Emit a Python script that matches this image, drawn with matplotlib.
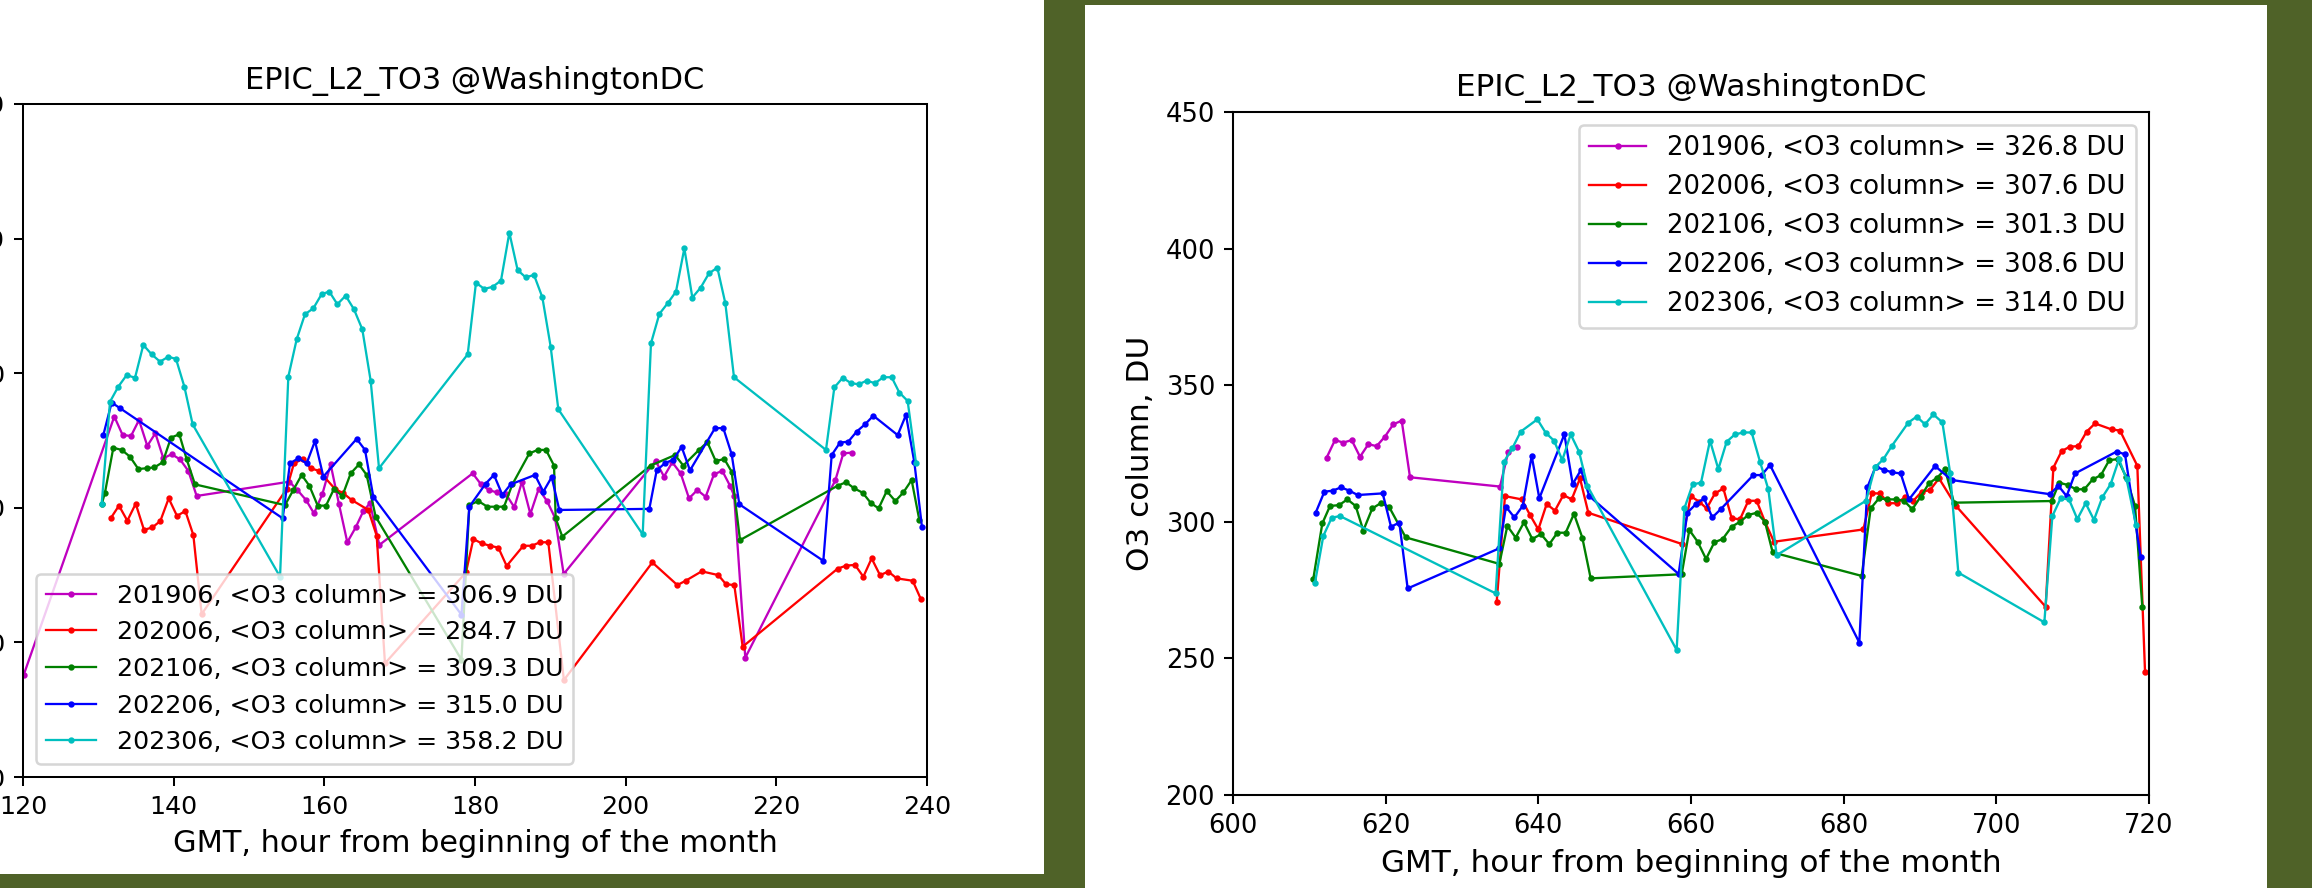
import matplotlib
matplotlib.use('Agg')
import matplotlib.pyplot as plt
from matplotlib.patches import Rectangle

# ---------------- data: left panel (hours 120-240) ----------------
months = ['201906', '202006', '202106', '202206', '202306']
colors = ['m', 'r', 'g', 'b', 'c']

means_left = [306.9, 284.7, 309.3, 315.0, 358.2]
means_right = [326.8, 307.6, 301.3, 308.6, 314.0]

L201906_h = [120.1, 132.12, 133.23, 134.34, 135.40, 136.50, 137.57, 138.63, 139.73, 140.84, 141.95, 143.05,
             155.35, 156.42, 157.57, 158.63, 159.73, 160.84, 161.95, 163.05, 164.16, 165.18, 166.06, 167.30,
             179.69, 180.80, 181.90, 182.96, 184.12, 185.22, 186.24, 187.35, 188.45, 189.56, 190.62, 191.77,
             203.98, 205.09, 206.19, 207.30, 208.41, 209.51, 210.62, 211.73, 212.83, 213.85, 214.4, 215.88,
             227.83, 228.89, 230.00]
L201906_v = [238.0, 333.9, 327.0, 326.7, 332.6, 323.0, 327.7, 318.4, 319.9, 318.0, 313.7, 304.4,
             309.7, 306.6, 302.9, 297.9, 305.0, 316.1, 301.3, 287.2, 292.7, 298.8, 301.7, 286.2,
             312.8, 308.7, 306.5, 305.7, 305.0, 300.2, 309.7, 297.7, 307.0, 302.5, 296.3, 275.4,
             317.4, 311.6, 316.9, 312.8, 303.5, 306.6, 304.1, 312.5, 313.7, 308.2, 304.5, 244.3,
             310.2, 320.2, 320.5]

L202006_h = [131.64, 132.74, 133.85, 134.96, 136.06, 137.17, 138.23, 139.34, 140.44, 141.55, 142.61, 143.72,
             155.00, 155.97, 157.12, 158.19, 159.29, 161.42, 162.52, 163.63, 165.84, 166.95, 168.05,
             178.8, 179.78, 180.88, 181.99, 183.10, 184.20, 186.42, 187.52, 188.63, 189.73, 191.8,
             203.54, 206.86, 207.96, 210.09, 212.30, 213.32, 214.42, 215.53,
             228.14, 229.25, 230.44, 231.55, 232.65, 233.76, 234.87, 235.97, 238.10, 239.20]
L202006_v = [296.1, 300.8, 295.2, 301.5, 291.8, 292.7, 295.1, 303.5, 297.0, 298.8, 289.9, 260.5,
             307.0, 316.5, 318.1, 314.7, 313.7, 307.0, 305.4, 302.9, 299.2, 289.6, 242.2,
             276.0, 288.4, 286.8, 285.9, 285.2, 278.4, 285.9, 285.9, 287.2, 287.2, 236.0,
             279.7, 271.3, 272.9, 276.4, 275.0, 271.6, 271.3, 248.4,
             277.4, 278.5, 278.8, 274.4, 281.2, 275.0, 276.3, 273.8, 272.9, 266.0]

L202106_h = [130.44, 130.88, 131.99, 133.10, 134.20, 135.31, 136.42, 137.43, 138.54, 139.65, 140.75, 141.73, 142.83,
             154.78, 155.88, 156.99, 158.01, 159.12, 160.22, 161.28, 162.39, 163.50, 164.60, 165.62, 166.81,
             178.2, 179.25, 180.44, 181.64, 182.74, 183.85, 184.96, 187.21, 188.32, 189.42, 190.49, 190.71, 191.59,
             203.32, 206.55, 207.65, 209.73, 210.84, 211.95, 213.10, 214.07, 215.18,
             228.14, 229.25, 230.35, 231.46, 232.57, 233.58, 234.65, 235.80, 236.86, 237.96, 238.98]
L202106_v = [301.3, 305.6, 322.3, 321.5, 319.0, 314.4, 314.7, 315.0, 316.9, 326.1, 327.3, 318.0, 308.7,
             301.0, 306.6, 312.2, 308.2, 300.8, 300.8, 307.0, 304.4, 312.8, 316.1, 312.2, 296.7,
             243.6, 301.0, 302.5, 300.4, 300.4, 300.4, 308.7, 320.2, 321.5, 321.5, 315.7, 296.1, 289.3,
             315.7, 319.6, 315.7, 321.5, 324.4, 317.4, 318.1, 313.4, 288.0,
             308.2, 309.5, 307.2, 305.6, 301.7, 299.8, 306.2, 302.5, 305.7, 310.3, 295.5]

L202206_h = [130.66, 131.77, 132.88, 154.47, 155.44, 156.55, 157.65, 158.76, 159.87, 164.29, 165.40, 166.50,
             178.2, 179.25, 181.42, 182.52, 183.63, 184.73, 187.96, 189.07, 190.18, 191.19,
             203.14, 204.12, 205.22, 206.33, 207.43, 208.54, 211.86, 212.96, 214.07, 215.09,
             226.24, 227.35, 228.45, 229.56, 230.66, 231.77, 232.88, 236.11, 237.21, 238.32, 239.34]
L202206_v = [327.0, 339.1, 337.0, 296.1, 316.5, 318.4, 316.5, 324.8, 311.6, 325.6, 321.5, 304.1,
             260.3, 300.4, 309.0, 312.2, 304.8, 308.7, 312.2, 306.0, 311.4, 299.2,
             299.6, 313.9, 316.6, 317.9, 322.6, 313.9, 329.6, 329.6, 319.9, 301.3,
             280.3, 319.6, 324.2, 324.6, 328.3, 331.0, 334.2, 327.0, 334.5, 316.9, 292.7]

L202306_h = [130.44, 131.55, 132.65, 133.76, 134.87, 135.97, 137.08, 138.19, 139.29, 140.31, 141.42, 142.52,
             154.12, 155.22, 156.33, 157.43, 158.54, 159.65, 160.66, 161.73, 162.83, 163.94, 165.04, 166.15, 167.26,
             179.03, 180.13, 181.24, 182.35, 183.45, 184.56, 185.66, 186.73, 187.83, 188.94, 190.04, 191.06,
             202.26, 203.36, 204.47, 205.58, 206.68, 207.79, 208.85, 209.96, 211.06, 212.17, 213.23, 214.38,
             226.59, 227.70, 228.81, 229.91, 230.93, 231.99, 233.10, 234.20, 235.31, 236.33, 237.43, 238.54]
L202306_v = [301.3, 339.4, 345.0, 349.3, 348.3, 360.5, 357.0, 354.3, 356.1, 355.3, 345.0, 331.0,
             274.4, 348.7, 362.6, 371.9, 374.1, 379.4, 380.3, 375.6, 378.8, 373.7, 366.3, 347.2, 314.7,
             357.0, 383.6, 381.3, 382.1, 384.4, 402.2, 388.3, 385.6, 386.5, 378.2, 359.9, 336.6,
             290.1, 361.1, 372.0, 376.0, 380.3, 396.4, 378.1, 381.8, 387.1, 389.2, 376.0, 348.5,
             321.5, 344.7, 348.3, 346.3, 345.9, 347.2, 346.3, 348.5, 348.5, 342.8, 339.7, 316.6]

# ---------------- data: right panel (hours 600-720) ----------------
R201906_h = [612.27, 613.36, 614.45, 615.55, 616.64, 617.73, 618.82, 619.91, 621.00, 622.10, 623.19,
             634.98, 636.07, 637.16]
R201906_v = [323.5, 329.9, 329.0, 329.9, 323.8, 328.4, 327.7, 331.2, 335.7, 337.0, 316.3,
             312.9, 325.7, 327.3]

R202006_h = [634.54, 635.63, 637.82, 638.91, 640.00, 641.09, 642.18, 643.28, 644.37, 645.46, 646.55,
             658.78, 659.96, 661.05, 662.05, 663.14, 664.24, 665.33, 666.42, 667.51, 668.60, 669.69, 670.87,
             682.58, 683.67, 684.76, 685.85, 686.94, 688.03, 689.13, 690.22, 691.31, 692.49, 694.72,
             706.46, 707.47, 708.56, 709.65, 710.74, 711.83, 712.93, 715.11, 716.20, 718.47, 719.48]
R202006_v = [270.5, 309.4, 308.2, 302.5, 297.2, 306.5, 304.1, 309.8, 308.2, 315.9, 303.3,
             291.9, 309.4, 307.4, 304.9, 310.4, 312.2, 301.3, 300.9, 307.7, 307.7, 300.0, 292.7,
             297.2, 310.4, 310.4, 306.8, 306.8, 309.0, 307.7, 311.0, 311.6, 315.9, 305.8,
             268.9, 319.8, 325.9, 327.5, 327.7, 333.0, 336.0, 333.8, 333.4, 320.5, 245.1]

R202106_h = [610.52, 611.70, 612.71, 613.89, 614.98, 616.07, 617.07, 618.25, 619.34, 620.44, 622.62,
             634.89, 635.94, 637.03, 638.12, 639.21, 640.35, 641.44, 642.49, 643.58, 644.67, 645.76, 646.86,
             658.78, 659.78, 660.87, 661.97, 663.06, 664.15, 665.33, 666.42, 667.51, 668.60, 669.69, 670.70,
             682.36, 683.54, 684.63, 685.72, 686.81, 687.90, 688.99, 690.09, 691.18, 692.27, 693.28, 694.45,
             707.25, 708.25, 709.34, 710.44, 711.53, 712.62, 713.71, 714.80, 715.90, 716.99, 718.17, 719.13]
R202106_v = [279.1, 299.4, 305.8, 306.1, 308.2, 305.8, 296.8, 304.9, 306.8, 305.5, 294.3,
             284.6, 298.5, 294.2, 299.8, 293.7, 295.5, 291.8, 296.0, 296.0, 302.9, 294.2, 279.3,
             280.8, 297.0, 292.7, 286.4, 292.5, 293.7, 298.2, 300.0, 302.5, 303.3, 300.0, 288.8,
             280.2, 304.9, 308.6, 308.2, 308.2, 307.7, 304.6, 309.2, 314.1, 316.2, 319.2, 307.0,
             307.6, 314.3, 313.5, 311.9, 311.9, 315.5, 317.1, 322.6, 322.9, 316.5, 305.8, 268.7]

R202206_h = [610.83, 611.97, 613.06, 614.15, 615.24, 616.33, 619.61, 620.70, 621.79, 622.88,
             634.89, 635.76, 636.86, 637.95, 639.13, 640.13, 643.41, 644.50, 645.59, 646.68,
             658.38, 659.52, 660.61, 661.70, 662.79, 663.89, 668.17, 669.26, 670.35,
             682.05, 683.10, 684.19, 685.28, 686.37, 687.47, 688.56, 691.97, 694.15,
             707.03, 708.12, 709.21, 710.31, 715.76, 716.86, 718.91]
R202206_v = [303.3, 311.0, 311.4, 312.6, 311.4, 309.8, 310.4, 298.2, 299.7, 275.6,
             290.3, 305.5, 301.6, 305.8, 324.1, 308.6, 332.0, 313.8, 319.0, 309.4,
             280.9, 303.3, 306.4, 308.6, 301.6, 304.6, 317.1, 317.1, 320.8,
             255.8, 312.6, 320.2, 319.0, 318.1, 317.7, 308.2, 320.4, 315.3,
             310.1, 313.2, 309.4, 317.7, 325.7, 324.7, 287.0]

R202306_h = [610.74, 611.83, 612.93, 614.02, 634.41, 635.50, 636.59, 637.69, 639.87, 640.96, 642.05, 643.14,
             644.24, 645.33, 646.42, 658.12, 659.13, 660.22, 661.31, 662.49, 663.58, 664.67, 665.76, 666.86,
             667.95, 669.04, 670.13, 671.22, 682.93, 684.10, 685.20, 686.29, 688.47, 689.56, 690.66, 691.75,
             692.93, 693.94, 695.02, 706.29, 707.34, 708.43, 709.52, 710.61, 711.70, 712.79, 713.89, 714.98,
             716.07, 717.07, 718.30]
R202306_v = [277.7, 294.8, 301.5, 302.1, 273.8, 322.0, 326.9, 333.0, 337.5, 332.6, 329.7, 322.6,
             332.0, 325.7, 313.2, 253.1, 304.9, 313.7, 314.3, 329.7, 319.3, 329.3, 332.0, 332.7,
             332.7, 322.0, 311.9, 287.8, 307.7, 319.9, 322.9, 327.7, 336.3, 338.5, 335.7, 339.3,
             336.4, 318.0, 281.4, 263.2, 302.1, 308.6, 308.2, 301.0, 306.8, 300.7, 309.0, 313.8,
             322.9, 315.5, 298.8]

left_series = [(L201906_h, L201906_v), (L202006_h, L202006_v), (L202106_h, L202106_v),
               (L202206_h, L202206_v), (L202306_h, L202306_v)]
right_series = [(R201906_h, R201906_v), (R202006_h, R202006_v), (R202106_h, R202106_v),
                (R202206_h, R202206_v), (R202306_h, R202306_v)]

title = 'EPIC_L2_TO3 @WashingtonDC'
xlabel = 'GMT, hour from beginning of the month'
ylabel = 'O3 column, DU'
yticks = [200, 250, 300, 350, 400, 450]

# ---------------- figure ----------------
W, H = 2312, 888
DPI = 182
fig = plt.figure(figsize=(W / DPI, H / DPI), dpi=DPI, facecolor='#4f6228')

# white "screenshot" panels (behind the axes)
fig.patches.append(Rectangle((0, 14 / H), 1044 / W, 1 - 14 / H, transform=fig.transFigure,
                             facecolor='white', edgecolor='none', zorder=-10))
fig.patches.append(Rectangle((1085 / W, 0), 1182 / W, 883 / H, transform=fig.transFigure,
                             facecolor='white', edgecolor='none', zorder=-10))

axL = fig.add_axes([23 / W, 111 / H, 904 / W, 673 / H])
axR = fig.add_axes([1233 / W, 93 / H, 916 / W, 683 / H])

panels = [(axL, left_series, means_left, (120, 240), 'lower left', 1.0, 2.0),
          (axR, right_series, means_right, (600, 720), 'upper right', 1.025, 2.2)]

for ax, series, means, xlim, loc, s, hl in panels:
    for (h, v), m, c, mean in zip(series, months, colors, means):
        ax.plot(h, v, '.-', color=c, lw=0.9 * s, ms=3 * s,
                label=f'{m}, <O3 column> = {mean:.1f} DU')
    ax.set_xlim(*xlim)
    ax.set_ylim(200, 450)
    ax.set_yticks(yticks)
    ax.tick_params(labelsize=10 * s, length=3.5 * s, width=0.8 * s)
    for sp in ax.spines.values():
        sp.set_linewidth(0.8 * s)
    ax.set_title(title, fontsize=12 * s, pad=6 * s)
    ax.set_xlabel(xlabel, fontsize=12 * s)
    ax.legend(loc=loc, fontsize=10 * s, handlelength=hl)

axR.set_ylabel(ylabel, fontsize=12 * 1.025)

fig.savefig('out.png', dpi=DPI, facecolor=fig.get_facecolor())
